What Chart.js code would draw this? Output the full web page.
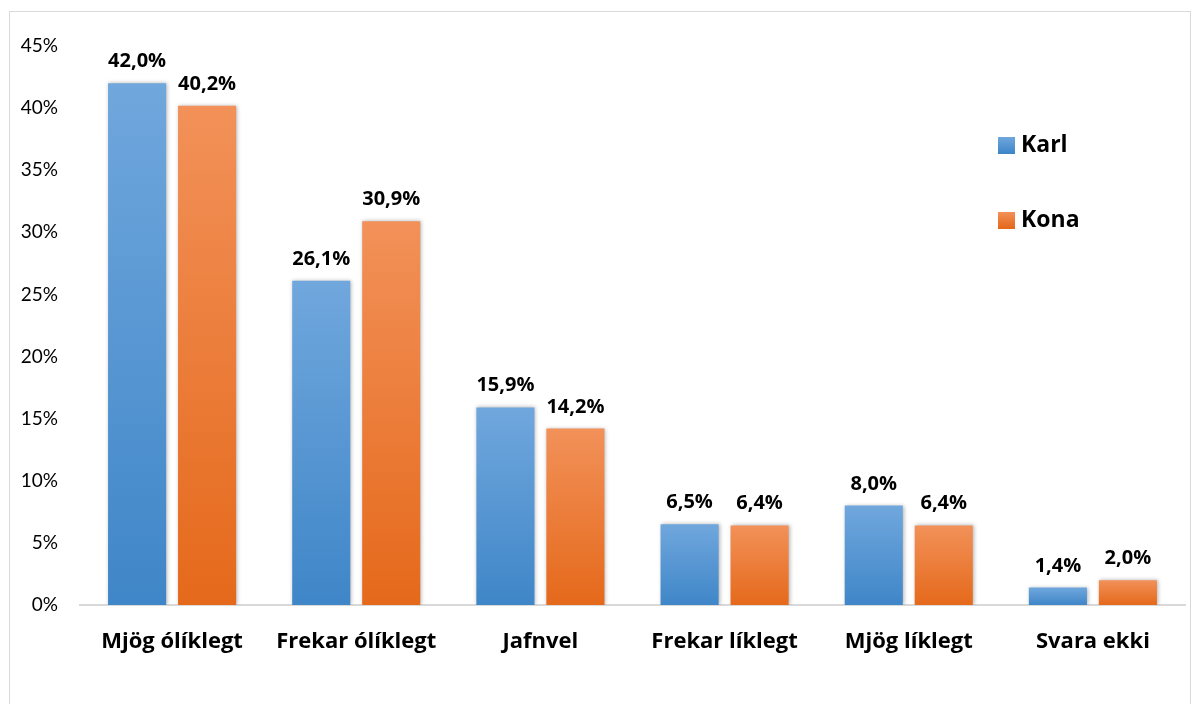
<!DOCTYPE html>
<html>
<head>
<meta charset="utf-8">
<script src="https://cdn.jsdelivr.net/npm/chart.js@4"></script>
<style>
  body { margin: 0; background: #fff; }
  #wrap { position: relative; width: 1200px; height: 704px; }
  #frame { position: absolute; left: 9px; top: 11px; width: 1182px; height: 700px; border: 1px solid #d9d9d9; box-sizing: border-box; pointer-events: none; }
</style>
</head>
<body>
<div id="wrap">
  <canvas id="myChart" width="1200" height="704"></canvas>
  <div id="frame"></div>
</div>
<script>
const categories = ['Mjög ólíklegt', 'Frekar ólíklegt', 'Jafnvel', 'Frekar líklegt', 'Mjög líklegt', 'Svara ekki']
const karl = [42.0, 26.1, 15.9, 6.5, 8.0, 1.4]
const kona = [40.2, 30.9, 14.2, 6.4, 6.4, 2.0]
const yTicks = [0, 5, 10, 15, 20, 25, 30, 35, 40, 45]

const FONT = 'Lato, "Open Sans", sans-serif'
const BOLD = '"Open Sans", Lato, sans-serif'
const blue = ['#70a7dd', '#3f86c8']
const orange = ['#f29159', '#e5691b']

// gradient per bar, lighter at the top
function barGradient(colors) {
  return (c) => {
    const chart = c.chart
    if (!chart.chartArea || c.type !== 'data') return colors[1]
    const y = chart.scales.y
    const top = y.getPixelForValue(c.parsed.y)
    const bottom = y.getPixelForValue(0)
    if (bottom - top < 1) return colors[1]
    const g = chart.ctx.createLinearGradient(0, top, 0, bottom)
    g.addColorStop(0, colors[0])
    g.addColorStop(1, colors[1])
    return g
  }
}

const fmt = v => v.toFixed(1).replace('.', ',') + '%'

const labelsPlugin = {
  id: 'labels',
  beforeDatasetsDraw(chart) {
    const ctx = chart.ctx
    ctx.save()
    ctx.shadowColor = 'rgba(0,0,0,0.3)'
    ctx.shadowBlur = 4
    ctx.shadowOffsetX = 1
    ctx.shadowOffsetY = 0
  },
  afterDatasetsDraw(chart) {
    const ctx = chart.ctx
    ctx.restore()
    ctx.save()
    ctx.font = 'bold 20px ' + BOLD
    ctx.fillStyle = '#000'
    ctx.textAlign = 'center'
    ctx.textBaseline = 'alphabetic'
    chart.data.datasets.forEach((ds, i) => {
      chart.getDatasetMeta(i).data.forEach((bar, j) => {
        ctx.fillText(fmt(ds.data[j]), bar.x, bar.y - 16)
      })
    })
    // legend inside the plot, on the right
    ctx.font = 'bold 23px ' + BOLD
    ctx.textAlign = 'left'
    ctx.textBaseline = 'middle'
    const cols = [blue, orange]
    chart.data.datasets.forEach((ds, i) => {
      const y = 145 + i * 75
      const g = ctx.createLinearGradient(0, y - 8, 0, y + 8)
      g.addColorStop(0, cols[i][0])
      g.addColorStop(1, cols[i][1])
      ctx.fillStyle = g
      ctx.fillRect(998, y - 8, 17, 17)
      ctx.fillStyle = '#000'
      ctx.fillText(ds.label, 1021, y)
    })
    ctx.restore()
  }
}

const ctx = document.getElementById('myChart')

new Chart(ctx, {
  type: 'bar',
  data: {
    labels: categories,
    datasets: [
      { label: 'Karl', data: karl, backgroundColor: barGradient(blue) },
      { label: 'Kona', data: kona, backgroundColor: barGradient(orange) }
    ]
  },
  options: {
    responsive: false,
    animation: false,
    devicePixelRatio: 1,
    categoryPercentage: 0.76,
    barPercentage: 0.83,
    layout: { padding: { top: 46, right: 15, left: 0, bottom: 0 } },
    plugins: {
      legend: { display: false },
      tooltip: { enabled: false }
    },
    scales: {
      x: {
        grid: { display: false, drawTicks: false },
        border: { display: true, color: '#d9d9d9', width: 2 },
        ticks: { color: '#000', padding: 24, font: { family: BOLD, size: 22, weight: 'bold' } },
        afterFit(s) { s.height = 99 }
      },
      y: {
        min: 0,
        max: 45,
        afterBuildTicks(s) { s.ticks = yTicks.map(v => ({ value: v })) },
        grid: { display: false, drawTicks: false },
        border: { display: false },
        ticks: { color: '#000', padding: 22, font: { family: FONT, size: 19 }, callback: v => v + '%' },
        afterFit(s) { s.width = 80 }
      }
    }
  },
  plugins: [labelsPlugin]
})
</script>
</body>
</html>
